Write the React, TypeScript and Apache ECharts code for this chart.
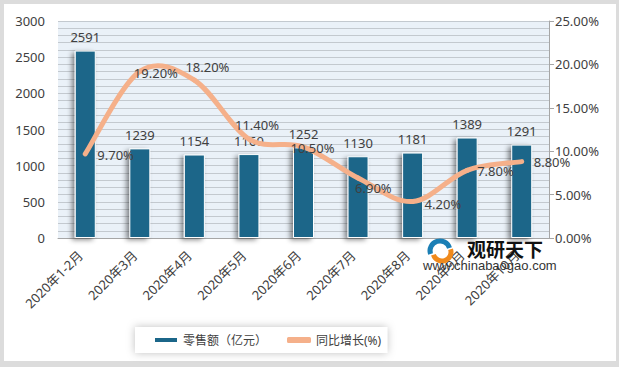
import React, { useEffect, useRef } from "react";
import * as echarts from "echarts";

const categories = ["2020年1-2月", "2020年3月", "2020年4月", "2020年5月", "2020年6月", "2020年7月", "2020年8月", "2020年9月", "2020年10月"];
const retailSales = [2591, 1239, 1154, 1160, 1252, 1130, 1181, 1389, 1291];
const growthRate = [9.7, 19.2, 18.2, 11.4, 10.5, 6.9, 4.2, 7.8, 8.8];
const labelOffsets: [number, number][] = [[12, 1], [-6, 2], [-9, -13], [-14, -14], [-13, 1], [-3, 10], [12, 2], [10, 1], [12, 0]];

const FONT = "'Noto Sans', 'Noto Sans CJK SC', sans-serif";
const TXT = "#404040";
const LINE = "#f5b08a";
const BAR = "#1b6689";

export default function App() {
  const ref = useRef<HTMLDivElement>(null);
  useEffect(() => {
    const chart = echarts.init(ref.current!, null, { renderer: "svg" });
    const n = growthRate.length;
    chart.setOption({
      animation: false,
      backgroundColor: "#dcdcdc",
      textStyle: { fontFamily: FONT },
      graphic: [
        { type: "rect", z: -10, shape: { x: 4, y: 4, width: 612, height: 357 }, style: { fill: "#ffffff" } },
        { type: "arc", z: 100, shape: { cx: 440, cy: 251, r: 10, startAngle: Math.PI * 0.9, endAngle: Math.PI * 1.9 }, style: { stroke: "#1b7fb5", lineWidth: 5, fill: "none" } },
        { type: "arc", z: 100, shape: { cx: 442, cy: 252, r: 9, startAngle: -Math.PI * 0.1, endAngle: Math.PI * 0.9 }, style: { stroke: "#f08a1c", lineWidth: 5, fill: "none" } },
        { type: "text", z: 100, left: 467, top: 239, style: { text: "观研天下", font: `bold 19px 'Noto Sans CJK SC', sans-serif`, fill: "#111" } },
        { type: "text", z: 100, left: 423, top: 259, style: { text: "www.chinabaogao.com", font: `13px 'Liberation Sans', sans-serif`, fill: "#333" } },
      ],
      grid: { left: 58, right: 70, top: 21, bottom: 129, show: true, backgroundColor: "#eaf1f8", borderWidth: 0 },
      legend: {
        bottom: 14,
        left: 135,
        backgroundColor: "#ffffff",
        shadowColor: "rgba(0,0,0,0.25)",
        shadowBlur: 8,
        padding: [7, 6, 7, 18],
        itemGap: 20,
        textStyle: { fontSize: 12, color: TXT, fontFamily: FONT },
        data: [
          { name: "零售额（亿元）", icon: "rect", itemStyle: { color: BAR } },
          { name: "同比增长(%)", icon: "roundRect", itemStyle: { color: LINE } },
        ],
        itemWidth: 24,
        itemHeight: 6,
      },
      xAxis: {
        type: "category",
        data: categories,
        axisLine: { lineStyle: { color: "#a6a6a6" } },
        axisTick: { show: false },
        axisLabel: { rotate: 45, fontSize: 13, color: TXT, interval: 0, margin: 10, padding: [0, 7, 0, 0] },
      },
      yAxis: [
        {
          type: "value",
          min: 0,
          max: 3000,
          interval: 500,
          axisLine: { show: false },
          axisTick: { show: false },
          axisLabel: { fontSize: 13, color: TXT, margin: 13, formatter: (v: number) => String(v) },
          splitLine: { show: true, lineStyle: { color: "#c3c9cf" } },
          minorTick: { show: false, splitNumber: 5 },
          minorSplitLine: { show: true, lineStyle: { color: "#c3c9cf" } },
        },
        {
          type: "value",
          min: 0,
          max: 25,
          interval: 5,
          position: "right",
          axisLine: { show: true, lineStyle: { color: "#a6a6a6" } },
          axisTick: { show: true, length: 5, lineStyle: { color: "#a6a6a6" } },
          axisLabel: { fontSize: 13, color: TXT, margin: 6, formatter: (v: number) => v.toFixed(2) + "%" },
          splitLine: { show: false },
        },
      ],
      series: [
        {
          name: "零售额（亿元）",
          type: "bar",
          data: retailSales,
          barWidth: 21,
          itemStyle: {
            color: BAR,
            borderColor: "#ffffff",
            borderWidth: 1,
            shadowColor: "rgba(0,0,0,0.45)",
            shadowBlur: 5,
            shadowOffsetX: -3,
            shadowOffsetY: 2,
          },
          label: { show: true, position: "top", distance: 7, fontSize: 13, color: TXT },
        },
        {
          name: "同比增长(%)",
          type: "custom",
          yAxisIndex: 1,
          z: 5,
          itemStyle: { color: LINE },
          data: growthRate.map((v, i) => [i, v]),
          renderItem: (params: any, api: any) => {
            const i = params.dataIndex;
            const pt = (k: number) => {
              const kk = Math.max(0, Math.min(n - 1, k));
              return api.coord([kk, growthRate[kk]]);
            };
            const children: any[] = [];
            if (i < n - 1) {
              const p0 = pt(i - 1), p1 = pt(i), p2 = pt(i + 1), p3 = pt(i + 2);
              children.push({
                type: "bezierCurve",
                z2: 0,
                shape: {
                  x1: p1[0], y1: p1[1], x2: p2[0], y2: p2[1],
                  cpx1: p1[0] + (p2[0] - p0[0]) / 6, cpy1: p1[1] + (p2[1] - p0[1]) / 6,
                  cpx2: p2[0] - (p3[0] - p1[0]) / 6, cpy2: p2[1] - (p3[1] - p1[1]) / 6,
                },
                style: { stroke: LINE, lineWidth: 5, fill: "none", lineCap: "round" },
              });
            }
            const p = pt(i);
            const off = labelOffsets[i];
            children.push({
              type: "text",
              z2: 10,
              x: p[0] + off[0],
              y: p[1] + off[1],
              style: {
                text: growthRate[i].toFixed(2) + "%",
                fill: TXT,
                font: `13px ${FONT}`,
                align: "left",
                verticalAlign: "middle",
              },
            });
            return { type: "group", children };
          },
        },
      ],
    });
    return () => chart.dispose();
  }, []);
  return <div ref={ref} style={{ position: "fixed", left: 0, top: 0, width: 619, height: 367 }} />;
}
